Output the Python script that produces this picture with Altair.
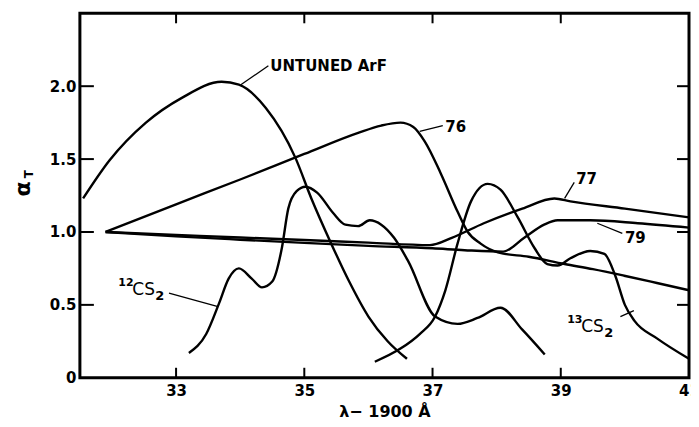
import altair as alt
import pandas as pd

# ---- data ----
untuned_x = [31.55, 31.96, 32.53, 33.09, 33.71, 33.98, 34.40, 34.86, 35.11, 35.42, 35.70, 36.00, 36.30, 36.60]
untuned_y = [1.23, 1.49, 1.75, 1.92, 2.03, 2.01, 1.85, 1.51, 1.23, 0.92, 0.66, 0.42, 0.25, 0.13]

t76_x = [31.9, 33.0, 34.0, 35.0, 35.84, 36.2, 36.5, 36.7, 36.88, 37.13, 37.39, 37.55, 37.75, 38.02, 38.5, 39.06, 39.5, 39.99, 40.5, 41.0]
t76_y = [1.0, 1.19, 1.36, 1.535, 1.68, 1.73, 1.75, 1.72, 1.62, 1.40, 1.14, 1.00, 0.92, 0.86, 0.83, 0.78, 0.745, 0.70, 0.65, 0.60]

t77_x = [31.9, 33.0, 34.0, 35.0, 36.0, 36.96, 37.3, 37.8, 38.4, 38.9, 39.15, 40.0, 41.0]
t77_y = [1.0, 0.98, 0.962, 0.945, 0.927, 0.91, 0.96, 1.06, 1.16, 1.23, 1.21, 1.16, 1.10]

t79_x = [31.9, 33.0, 34.0, 35.0, 36.0, 37.0, 37.5, 38.1, 38.43, 38.74, 38.95, 39.46, 40.2, 41.0]
t79_y = [1.0, 0.97, 0.947, 0.925, 0.905, 0.888, 0.875, 0.865, 0.96, 1.05, 1.08, 1.08, 1.06, 1.03]

cs12_x = [33.2, 33.47, 33.67, 33.82, 33.98, 34.18, 34.34, 34.5, 34.65, 34.75, 34.88, 35.02, 35.2, 35.45, 35.64, 35.84, 36.02, 36.2, 36.4, 36.62, 37.04, 37.39, 37.7, 38.06, 38.4, 38.75]
cs12_y = [0.17, 0.30, 0.51, 0.68, 0.75, 0.68, 0.62, 0.66, 0.89, 1.16, 1.28, 1.31, 1.27, 1.13, 1.05, 1.04, 1.08, 1.05, 0.96, 0.80, 0.42, 0.37, 0.41, 0.48, 0.33, 0.16]

cs13_x = [36.1, 36.5, 36.8, 37.04, 37.2, 37.39, 37.6, 37.86, 38.06, 38.33, 38.59, 38.79, 38.95, 39.15, 39.46, 39.68, 39.85, 40.0, 40.15, 40.5, 41.0]
cs13_y = [0.11, 0.20, 0.30, 0.42, 0.60, 0.92, 1.21, 1.33, 1.29, 1.10, 0.89, 0.78, 0.77, 0.82, 0.87, 0.85, 0.70, 0.50, 0.39, 0.27, 0.13]

label_text = ["UNTUNED ArF", "76", "77", "79"]
label_x = [34.47, 37.2, 39.24, 40.0]
label_y = [2.14, 1.72, 1.36, 0.96]

iso_mass = ["12", "13"]
iso_x = [32.1, 39.1]
iso_y = [0.60, 0.35]

leader_x0 = [34.01, 36.80, 39.06, 39.57, 32.89, 39.93]
leader_y0 = [2.01, 1.69, 1.23, 1.06, 0.58, 0.42]
leader_x1 = [34.44, 37.16, 39.21, 39.96, 33.64, 40.14]
leader_y1 = [2.14, 1.73, 1.34, 0.99, 0.49, 0.46]

x_ticks = [33, 35, 37, 39, 41]
y_ticks = [0, 0.5, 1.0, 1.5, 2.0]

XMIN, XMAX = 31.5, 41.0
YMIN, YMAX = 0.0, 2.5
W, H = 610, 365
FONT = "DejaVu Sans"

# ---- tables ----
series = {
    "untuned": (untuned_x, untuned_y),
    "76": (t76_x, t76_y),
    "77": (t77_x, t77_y),
    "79": (t79_x, t79_y),
    "12CS2": (cs12_x, cs12_y),
    "13CS2": (cs13_x, cs13_y),
}
rows = []
for name, (xv, yv) in series.items():
    for i, (a, b) in enumerate(zip(xv, yv)):
        rows.append({"series": name, "i": i, "x": a, "y": b})
curves = pd.DataFrame(rows)

lead_rows = []
for k in range(len(leader_x0)):
    lead_rows.append({"id": k, "i": 0, "x": leader_x0[k], "y": leader_y0[k]})
    lead_rows.append({"id": k, "i": 1, "x": leader_x1[k], "y": leader_y1[k]})
leaders = pd.DataFrame(lead_rows)

labels = pd.DataFrame({"x": label_x, "y": label_y, "text": label_text})
iso = pd.DataFrame({"x": iso_x, "y": iso_y, "m": iso_mass})

xs = alt.Scale(domain=[XMIN, XMAX], nice=False, zero=False)
ys = alt.Scale(domain=[YMIN, YMAX], nice=False, zero=False)

x_axis = alt.Axis(values=x_ticks, tickSize=0, domain=False, grid=False, labelFlush=False,
                  format="d",
                  labelFont=FONT, labelFontSize=15, labelFontWeight="bold", labelColor="black",
                  labelPadding=6, title="λ− 1900 Å", titleFont=FONT, titleFontSize=16,
                  titleFontWeight="bold", titleColor="black", titlePadding=5)
y_axis = alt.Axis(values=y_ticks, tickSize=0, domain=False, grid=False, labelFlush=False,
                  labelExpr="datum.value == 0 ? '0' : format(datum.value, '.1f')",
                  labelFont=FONT, labelFontSize=15, labelFontWeight="bold", labelColor="black",
                  labelPadding=4, title=None)

lines = alt.Chart(curves).mark_line(interpolate="monotone", color="black", strokeWidth=2.4).encode(
    x=alt.X("x:Q", scale=xs, axis=x_axis),
    y=alt.Y("y:Q", scale=ys, axis=y_axis),
    detail="series:N",
    order="i:Q",
)

lead = alt.Chart(leaders).mark_line(color="black", strokeWidth=1.3).encode(
    x=alt.X("x:Q", scale=xs), y=alt.Y("y:Q", scale=ys), detail="id:N", order="i:Q"
)

texts = alt.Chart(labels).mark_text(align="left", baseline="middle", font=FONT, fontSize=15,
                                     fontWeight="bold", color="black").encode(
    x=alt.X("x:Q", scale=xs), y=alt.Y("y:Q", scale=ys), text="text:N"
)

# isotope labels: superscript mass, "CS", subscript 2
iso_sup = alt.Chart(iso).mark_text(align="left", baseline="middle", font=FONT, fontSize=11,
                                   fontWeight="bold", color="black", dy=-7).encode(
    x=alt.X("x:Q", scale=xs), y=alt.Y("y:Q", scale=ys), text="m:N")
iso_cs = alt.Chart(iso).mark_text(align="left", baseline="middle", font=FONT, fontSize=17,
                                  color="black", dx=14).encode(
    x=alt.X("x:Q", scale=xs), y=alt.Y("y:Q", scale=ys), text=alt.value("CS"))
iso_sub = alt.Chart(iso).mark_text(align="left", baseline="middle", font=FONT, fontSize=13,
                                   fontWeight="bold", color="black", dx=37, dy=6).encode(
    x=alt.X("x:Q", scale=xs), y=alt.Y("y:Q", scale=ys), text=alt.value("2"))

xt = pd.DataFrame({"t": [v for v in x_ticks if XMIN < v < XMAX]})
yt = pd.DataFrame({"t": [v for v in y_ticks if YMIN < v < YMAX]})

bot_ticks = alt.Chart(xt).mark_rule(color="black", strokeWidth=2).encode(
    x=alt.X("t:Q", scale=xs), y=alt.value(H), y2=alt.value(H - 10))
top_ticks = alt.Chart(xt).mark_rule(color="black", strokeWidth=2).encode(
    x=alt.X("t:Q", scale=xs), y=alt.value(0), y2=alt.value(10))
left_ticks = alt.Chart(yt).mark_rule(color="black", strokeWidth=2).encode(
    y=alt.Y("t:Q", scale=ys), x=alt.value(0), x2=alt.value(14))
right_ticks = alt.Chart(yt).mark_rule(color="black", strokeWidth=2).encode(
    y=alt.Y("t:Q", scale=ys), x=alt.value(W), x2=alt.value(W - 12))

alpha = alt.Chart(pd.DataFrame({"t": ["α"]})).mark_text(
    angle=270, font=FONT, fontSize=22, fontWeight="bold", color="black", baseline="middle", align="center"
).encode(text="t:N", x=alt.value(-57), y=alt.value(176))
tsub = alt.Chart(pd.DataFrame({"t": ["T"]})).mark_text(
    angle=270, font=FONT, fontSize=12, fontWeight="bold", color="black", baseline="middle", align="center"
).encode(text="t:N", x=alt.value(-51), y=alt.value(161))

chart = alt.layer(lines, lead, texts, iso_sup, iso_cs, iso_sub,
                  bot_ticks, top_ticks, left_ticks, right_ticks, alpha, tsub).properties(
    width=W, height=H,
    background="white",
    autosize=alt.AutoSizeParams(type="none"),
    padding={"left": 72, "top": 5, "right": 2, "bottom": 48},
).configure_view(stroke="black", strokeWidth=3)

chart.save("out.html", embed_options={"renderer": "svg", "actions": False})
